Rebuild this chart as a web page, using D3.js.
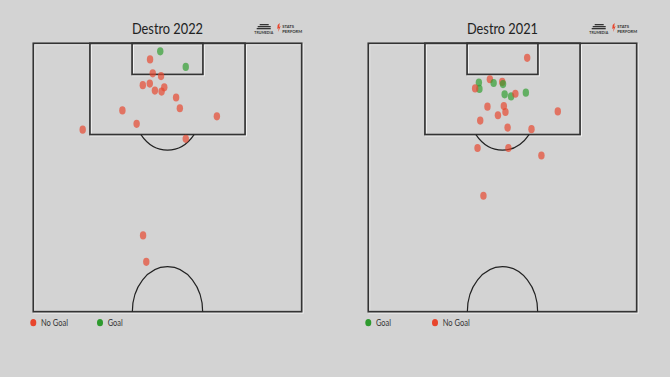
<!DOCTYPE html>
<html>
<head>
<meta charset="utf-8">
<script src="https://cdn.jsdelivr.net/npm/d3@7"></script>
<style>
  body { margin: 0; background: #d3d3d3; }
  svg { display: block; }
</style>
</head>
<body>
<svg id="chart"></svg>
<script>
// shots in Opta coords: x = 50..100 towards goal, y = 0..100 across the pitch
const shots2022X = [98.5, 95.6, 97.0, 94.4, 93.9, 92.2, 92.5, 91.2, 91.0, 91.8, 89.9, 87.9, 87.5, 85.0, 86.4, 83.9, 82.2, 64.2, 59.3];
const shots2022Y = [47.3, 56.8, 43.5, 44.5, 47.6, 40.8, 43.4, 45.3, 47.8, 48.8, 53.2, 54.6, 33.2, 38.5, 68.4, 18.4, 56.8, 40.9, 42.1];
const shots2022Goal = [1, 1, 0, 0, 0, 0, 0, 0, 0, 0, 0, 0, 0, 0, 0, 0, 0, 0, 0];

const shots2021X = [97.3, 92.7, 91.5, 93.3, 92.6, 92.8, 92.4, 91.6, 90.5, 90.1, 90.6, 90.8, 88.2, 88.3, 87.2, 86.6, 87.3, 85.6, 84.3, 84.0, 80.5, 80.5, 79.1, 71.6];
const shots2021Y = [59.2, 41.2, 41.4, 45.3, 46.7, 49.9, 50.2, 39.8, 50.8, 53.2, 54.8, 58.7, 44.4, 50.5, 51.1, 48.3, 70.6, 41.7, 51.9, 60.8, 40.7, 52.2, 64.5, 42.9];
const shots2021Goal = [0, 1, 1, 0, 1, 0, 1, 0, 1, 1, 0, 1, 0, 0, 0, 0, 0, 0, 0, 0, 0, 0, 0, 0];

const titles = ["Destro 2022", "Destro 2021"];
const legendOrder = [["No Goal", "Goal"], ["Goal", "No Goal"]];

const W = 670, H = 377;
const red = "#e8452c", green = "#2e9a2e";
const dotRed = "#e8452c", dotGreen = "#2e9e2e";

const svg = d3.select("#chart").attr("width", W).attr("height", H);
svg.append("rect").attr("width", W).attr("height", H).attr("fill", "#d3d3d3");

function drawPanel(left, title, xs, ys, goals, legend) {
  const g = svg.append("g");
  const sx = d3.scaleLinear().domain([0, 100]).range([left, left + 268.4]);
  const sy = d3.scaleLinear().domain([100, 50]).range([43.3, 311.7]);

  // title
  g.append("text")
    .attr("x", sx(50)).attr("y", 34)
    .attr("text-anchor", "middle")
    .attr("font-family", "Lato, sans-serif")
    .attr("font-size", 15.8)
    .attr("fill", "#222")
    .attr("textLength", 71).attr("lengthAdjust", "spacingAndGlyphs")
    .text(title);

  // logos (tiny)
  const lg = g.append("g").attr("transform", `translate(${sx(100) - 46},0)`);
  [[3, 24, 9, 1.3], [1, 26, 13, 1.3], [0, 28, 14, 1.3]].forEach(d => {
    lg.append("rect").attr("x", d[0] + 1).attr("y", d[1]).attr("width", d[2]).attr("height", d[3]).attr("fill", "#333");
  });
  lg.append("text").attr("x", 8).attr("y", 34).attr("text-anchor", "middle")
    .attr("font-family", "Lato, sans-serif").attr("font-size", 3.6).attr("font-weight", 700)
    .attr("fill", "#333").text("TRUMEDIA");
  lg.append("path").attr("d", "M22,25 L24,23 L23.5,27 L25,26 L22.5,32 L23,28 L21.5,29 Z").attr("fill", "#e8452c");
  lg.append("text").attr("x", 26.5).attr("y", 28).attr("font-family", "Lato, sans-serif")
    .attr("font-size", 4.2).attr("font-weight", 700).attr("fill", "#333").text("STATS");
  lg.append("text").attr("x", 26.5).attr("y", 32.5).attr("font-family", "Lato, sans-serif")
    .attr("font-size", 4.2).attr("font-weight", 700).attr("fill", "#333").text("PERFORM");

  // pitch straight lines with white shadow
  const rects = [[0, 100, 50, 100], [21.1, 78.9, 83, 100], [36.8, 63.2, 94.2, 100]];
  [["#f4f4f4", 1], ["#333", 0]].forEach(([col, off]) => {
    rects.forEach(r => {
      g.append("rect")
        .attr("x", sx(r[0]) + off).attr("y", sy(r[3]) + off)
        .attr("width", sx(r[1]) - sx(r[0])).attr("height", sy(r[2]) - sy(r[3]))
        .attr("fill", "none").attr("stroke", col).attr("stroke-width", 1.7);
    });
  });

  // arcs: D and half centre circle (ellipses in Opta space)
  const rx = sx(13.1) - sx(0), ry = sy(91.6) - sy(100);
  const spotX = sx(50), spotY = sy(88.5);
  const boxY = sy(83);
  const dy = boxY - spotY;
  const dx = rx * Math.sqrt(1 - (dy * dy) / (ry * ry));
  g.append("path")
    .attr("d", `M${spotX - dx},${boxY} A${rx},${ry} 0 0 0 ${spotX + dx},${boxY}`)
    .attr("fill", "none").attr("stroke", "#222").attr("stroke-width", 1.2);
  const cY = sy(50);
  g.append("path")
    .attr("d", `M${spotX - rx},${cY} A${rx},${ry} 0 0 1 ${spotX + rx},${cY}`)
    .attr("fill", "none").attr("stroke", "#222").attr("stroke-width", 1.2);

  // shots
  g.selectAll("ellipse.shot")
    .data(xs.map((x, i) => ({ x, y: ys[i], goal: goals[i] })))
    .join("ellipse")
    .attr("class", "shot")
    .attr("cx", d => sx(d.y)).attr("cy", d => sy(d.x))
    .attr("rx", 3.2).attr("ry", 4.1)
    .attr("fill", d => d.goal ? dotGreen : dotRed)
    .attr("fill-opacity", 0.68);

  // legend
  legend.forEach((lab, i) => {
    const lx = left + i * 66.7;
    g.append("ellipse").attr("cx", lx).attr("cy", 322.7).attr("rx", 3).attr("ry", 3.6)
      .attr("fill", lab === "Goal" ? green : red);
    g.append("text").attr("x", lx + 7.7).attr("y", 326.3)
      .attr("font-family", "Lato, sans-serif").attr("font-size", 10)
      .attr("fill", "#333")
      .attr("textLength", lab === "Goal" ? 15 : 27).attr("lengthAdjust", "spacingAndGlyphs")
      .text(lab);
  });
}

drawPanel(33.3, titles[0], shots2022X, shots2022Y, shots2022Goal, legendOrder[0]);
drawPanel(368.3, titles[1], shots2021X, shots2021Y, shots2021Goal, legendOrder[1]);
</script>
</body>
</html>
